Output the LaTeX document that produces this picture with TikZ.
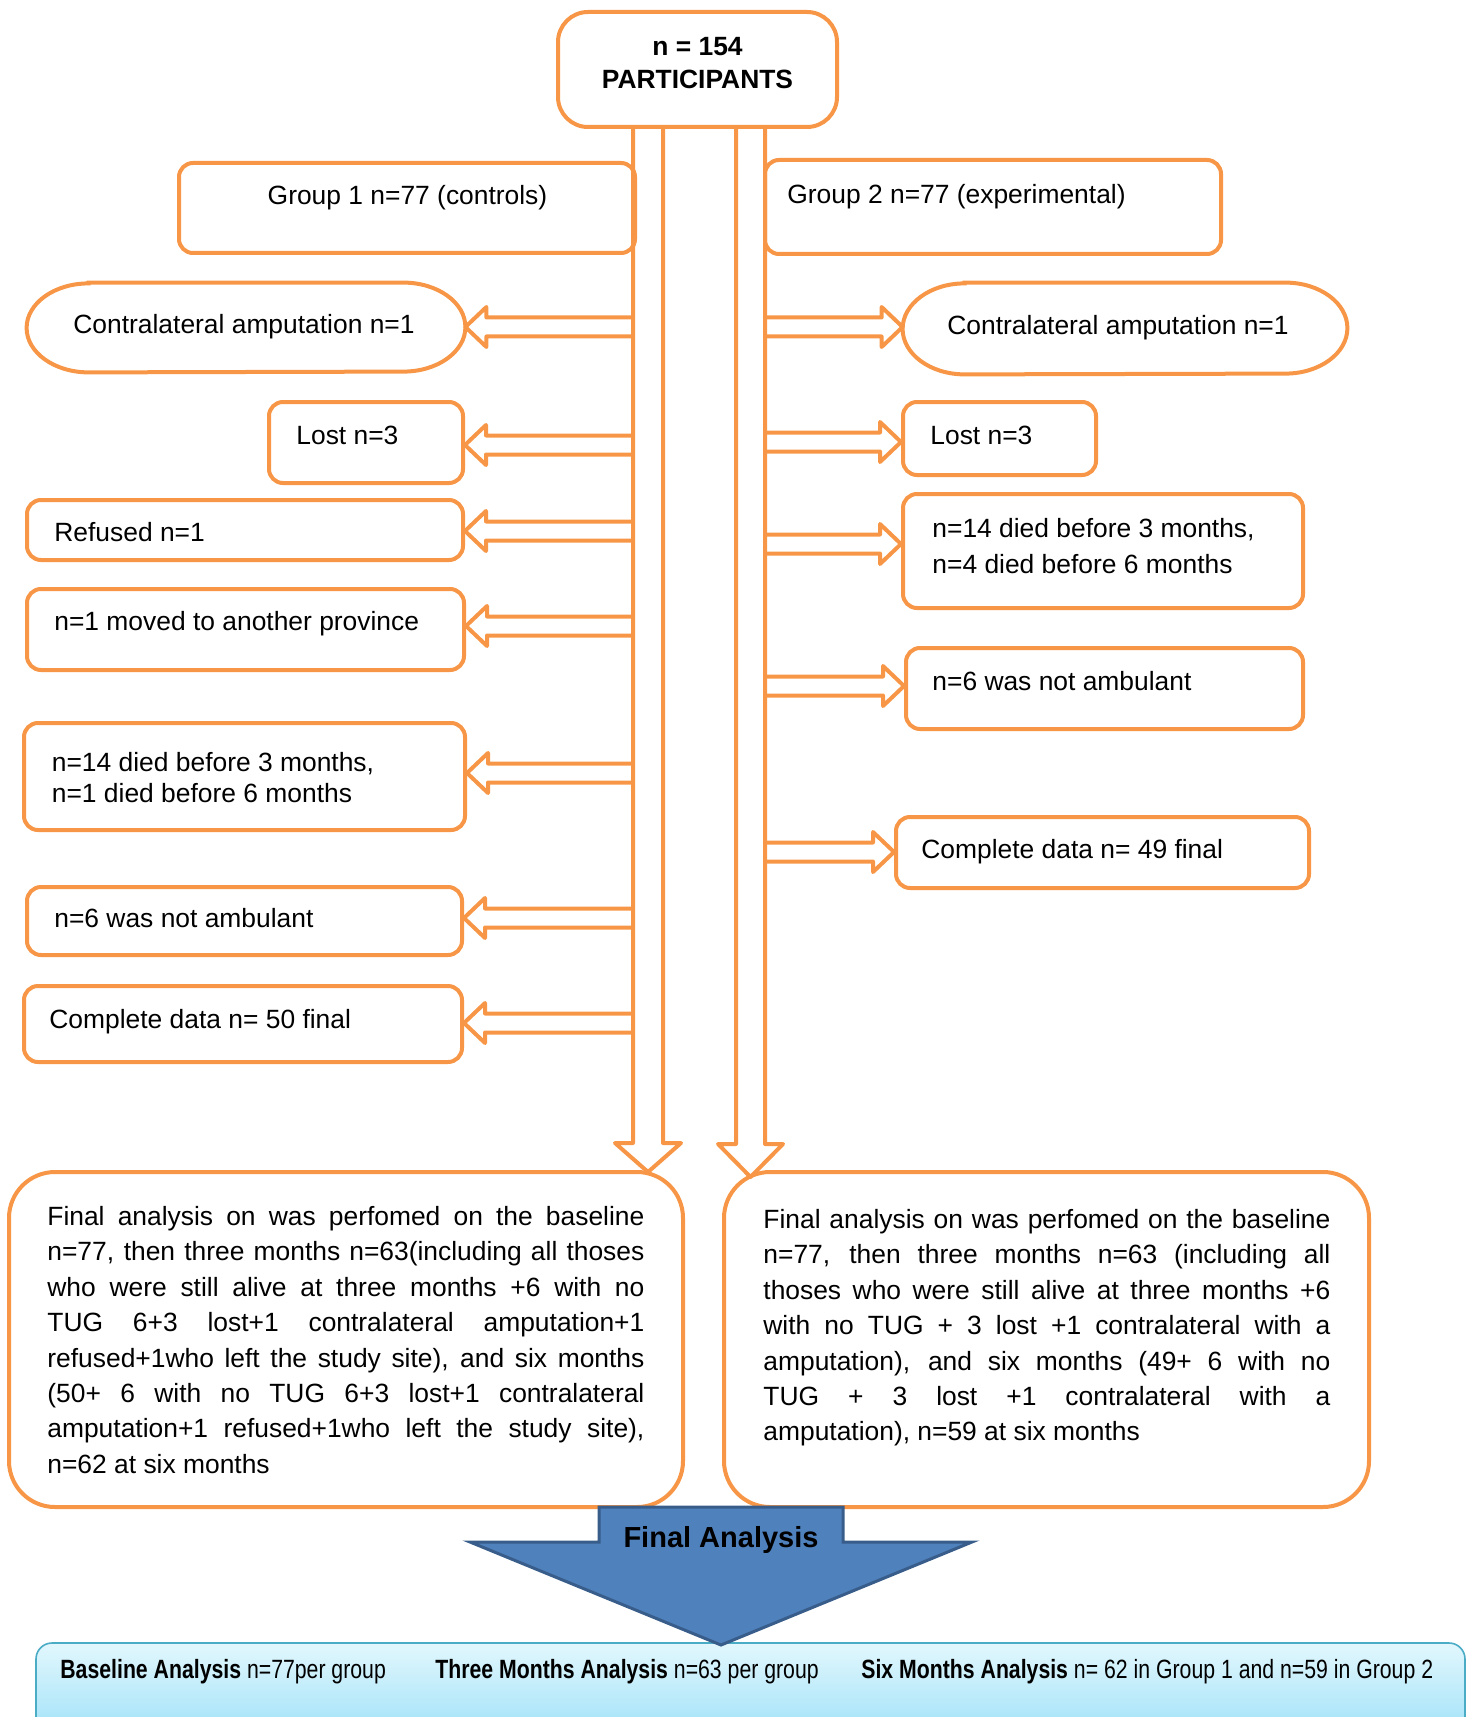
\documentclass[tikz,border=0pt]{standalone}
\usepackage{fontspec}
\setmainfont{Liberation Sans}
\newfontfamily\narrowsans[FakeStretch=0.805]{Liberation Sans}
\usetikzlibrary{fit,calc}
\definecolor{org}{HTML}{F79646}
\definecolor{blu}{HTML}{4F81BD}
\definecolor{bluedge}{HTML}{385D8A}
\definecolor{bantop}{HTML}{E2F7FD}
\definecolor{banbot}{HTML}{84D9F6}
\definecolor{banedge}{HTML}{4BACC6}
\newcommand\arrL[2]{\draw[harr] let \p1=(#1.east), \p2=(633,#2) in
  (\x2,\y2+4.75pt) -- (\x1+10.5pt,\y2+4.75pt) -- (\x1+10.5pt,\y2+10pt) -- (\x1,\y2)
  -- (\x1+10.5pt,\y2-10pt) -- (\x1+10.5pt,\y2-4.75pt) -- (\x2,\y2-4.75pt);}
\newcommand\arrR[2]{\draw[harr] let \p1=(#1.west), \p2=(765,#2) in
  (\x2,\y2+4.75pt) -- (\x1-10.5pt,\y2+4.75pt) -- (\x1-10.5pt,\y2+10pt) -- (\x1,\y2)
  -- (\x1-10.5pt,\y2-10pt) -- (\x1-10.5pt,\y2-4.75pt) -- (\x2,\y2-4.75pt);}
\newcommand\stadium[2]{\draw[draw=org, line width=2pt]
  ([xshift=31pt]#1.north west) -- ([xshift=-31pt]#1.north east)
  arc[start angle=90, end angle=-90, x radius=31pt, y radius=#2]
  -- ([xshift=31pt]#1.south west)
  arc[start angle=270, end angle=90, x radius=31pt, y radius=#2] -- cycle;}
\newcommand\jl[1]{\makebox[\linewidth][s]{#1}\\}
\begin{document}
\begin{tikzpicture}[x=0.5pt,y=-0.5pt,
  ob/.style={draw=org, line width=2pt, rounded corners=7pt, inner sep=0pt},
  hid/.style={draw=none, inner sep=0pt},
  harr/.style={draw=org, line width=2pt, line join=round},
  lbl/.style={anchor=base west, inner sep=0pt, font=\fontsize{13.2}{16}\selectfont},
  clbl/.style={anchor=base, inner sep=0pt, font=\fontsize{13.2}{16}\selectfont},
  blbl/.style={anchor=base, inner sep=0pt, font=\bfseries\fontsize{13.2}{16}\selectfont},
  nlbl/.style={anchor=base west, inner sep=0pt, font=\narrowsans\fontsize{13.2}{16}\selectfont}]
\useasboundingbox (0,0) rectangle (1472,1717);

% banner (clipped at the bottom edge)
\begin{scope}
\clip (0,0) rectangle (1472,1717);
\node[fit={(36,1643) (1465,1775)}, inner sep=0pt, draw=banedge, line width=0.8pt,
  rounded corners=8pt, top color=bantop, bottom color=banbot] (ban) {};
\end{scope}

% top box
\node[ob, rounded corners=15pt, fit={(558,12) (837,127)}] (T) {};
\node[blbl] (T1) at (697.5,56) {n = 154};
\node[blbl] (T2) at (697.5,88.5) {PARTICIPANTS};

% group boxes
\node[ob, fit={(179,163) (635,253)}] (G1) {};
\node[ob, fit={(765,160) (1221,254)}] (G2) {};
\node[clbl] (G1t) at (407.5,205) {Group 1 n=77 (controls)};
\node[lbl] (G2t) at (787,203.5) {Group 2 n=77 (experimental)};

% left boxes
\node[hid, fit={(27,283) (465,372)}] (L1) {};
\stadium{L1}{22.25pt}
\node[ob, fit={(269,402) (463,483)}] (L2) {};
\node[ob, fit={(27,500) (463,560)}] (L3) {};
\node[ob, fit={(27,589) (464,670)}] (L4) {};
\node[ob, fit={(24,723) (465,830)}] (L5) {};
\node[ob, fit={(27,887) (462,955)}] (L6) {};
\node[ob, fit={(24,986) (462,1062)}] (L7) {};

% right boxes
\node[hid, fit={(903,283) (1347,374)}] (R1) {};
\stadium{R1}{22.75pt}
\node[ob, fit={(903,402) (1096,475)}] (R2) {};
\node[ob, fit={(903,494) (1303,608)}] (R3) {};
\node[ob, fit={(906,648) (1303,729)}] (R4) {};
\node[ob, fit={(896,817) (1309,888)}] (R5) {};

% texts
\node[lbl] (L1t) at (73,333.5) {Contralateral amputation n=1};
\node[lbl] (L2t) at (296,444.5) {Lost n=3};
\node[lbl] (L3t) at (54,541.5) {Refused n=1};
\node[lbl] (L4t) at (54,630.5) {n=1 moved to another province};
\node[lbl] (L5a) at (51.5,771.5) {n=14 died before 3 months,};
\node[lbl] (L5b) at (51.5,802.5) {n=1 died before 6 months};
\node[lbl] (L6t) at (54,927.5) {n=6 was not ambulant};
\node[lbl] (L7t) at (49,1028) {Complete data n= 50 final};
\node[lbl] (R1t) at (947,334.5) {Contralateral amputation n=1};
\node[lbl] (R2t) at (930,444.5) {Lost n=3};
\node[lbl] (R3a) at (932,537.5) {n=14 died before 3 months,};
\node[lbl] (R3b) at (932,573.5) {n=4 died before 6 months};
\node[lbl] (R4t) at (932,690.5) {n=6 was not ambulant};
\node[lbl] (R5t) at (921,858.5) {Complete data n= 49 final};

% big boxes
\node[ob, rounded corners=23pt, fit={(9,1172) (683,1507)}] (BL) {};
\node[ob, rounded corners=23pt, fit={(724,1172) (1369,1507)}] (BR) {};
\node[lbl] (BLt) at (47,1225.5) {\parbox[t]{298.5pt}{\fontsize{13.2}{17.7}\selectfont
\jl{Final analysis on was perfomed on the baseline}
\jl{n=77, then three months n=63(including all thoses}
\jl{who were still alive at three months +6 with no}
\jl{TUG 6+3 lost+1 contralateral amputation+1}
\jl{refused+1who left the study site), and six months}
\jl{(50+ 6 with no TUG 6+3 lost+1 contralateral}
\jl{amputation+1 refused+1who left the study site),}
n=62 at six months}};
\node[lbl] (BRt) at (763,1228.5) {\parbox[t]{283.5pt}{\fontsize{13.2}{17.7}\selectfont
\jl{Final analysis on was perfomed on the baseline}
\jl{n=77, then three months n=63 (including all}
\jl{thoses who were still alive at three months +6}
\jl{with no TUG + 3 lost +1 contralateral with a}
\jl{amputation), and six months (49+ 6 with no}
\jl{TUG + 3 lost +1 contralateral with a}
amputation), n=59 at six months}};

% vertical hollow arrows
\coordinate (tipL) at (648,1172);
\coordinate (tipR) at (750.5,1177);
\draw[harr] (T.south -| 633,0) -- (633,1143) -- (615,1143) -- (tipL) -- (681,1143) -- (663,1143) -- (T.south -| 663,0);
\draw[harr] (T.south -| 736,0) -- (736,1144) -- (718,1144) -- (tipR) -- (783,1144) -- (765,1144) -- (T.south -| 765,0);

% horizontal hollow arrows
\arrL{L1}{327}
\arrL{L2}{445}
\arrL{L3}{531}
\arrL{L4}{626}
\arrL{L5}{773}
\arrL{L6}{918}
\arrL{L7}{1023}
\arrR{R1}{327}
\arrR{R2}{442}
\arrR{R3}{544}
\arrR{R4}{686}
\arrR{R5}{852}

% final analysis arrow
\draw[draw=bluedge, fill=blu, line width=1.5pt, line join=miter]
  (599,1507) -- (843,1507) -- (843,1542) -- (972,1542) -- (721,1645) -- (470,1542) -- (599,1542) -- cycle;
\node[anchor=base, inner sep=0pt, font=\bfseries\fontsize{14.5}{17}\selectfont] (fa) at (721,1547) {Final Analysis};

% banner texts
\node[nlbl] (b1) at (60,1678.5) {\textbf{Baseline Analysis} n=77per group};
\node[nlbl] (b2) at (435,1678.5) {\textbf{Three Months Analysis} n=63 per group};
\node[nlbl] (b3) at (861,1678.5) {\textbf{Six Months Analysis} n= 62 in Group 1 and n=59 in Group 2};
\end{tikzpicture}
\end{document}
